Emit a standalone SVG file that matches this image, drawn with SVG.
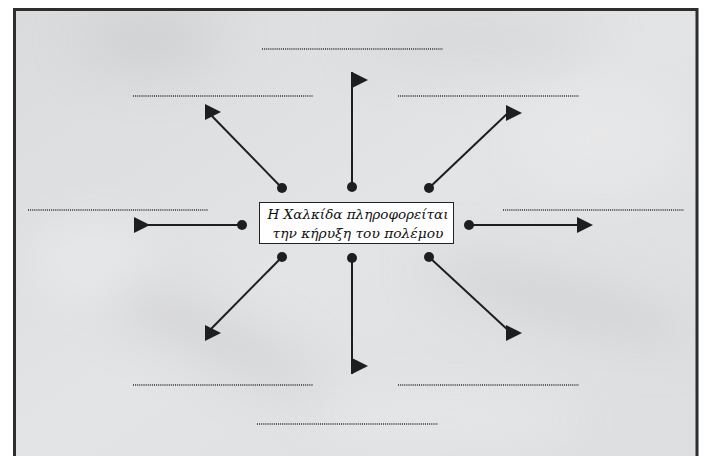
<svg xmlns="http://www.w3.org/2000/svg" xmlns:xlink="http://www.w3.org/1999/xlink" width="704" height="456" viewBox="0 0 704 456">
<style>
.dots{stroke:#2a2a2a;stroke-width:1.3;stroke-dasharray:1 1.1;fill:none}
.arr{stroke:#1e1e1e;stroke-width:2;fill:none}
.dot{fill:#1e1e1e}
.flag{fill:#1e1e1e}
.lbl{font-family:"DejaVu Serif","Liberation Serif",serif;font-style:italic;font-size:13.5px;fill:#111;text-anchor:middle}
</style>
<defs>
<linearGradient id="bg" x1="0" y1="0" x2="1" y2="1">
<stop offset="0" stop-color="#dadbdd"/>
<stop offset="0.5" stop-color="#e3e4e6"/>
<stop offset="1" stop-color="#dddee0"/>
</linearGradient>
<filter id="blur" x="-50%" y="-50%" width="200%" height="200%"><feGaussianBlur stdDeviation="25"/></filter>
<polygon id="fl" points="0,-8 16,0 0,8"/>
<clipPath id="frameclip"><rect x="15" y="10" width="682" height="446"/></clipPath>
</defs>
<rect width="704" height="456" fill="#fff"/>
<g clip-path="url(#frameclip)">
<rect x="15" y="10" width="682" height="446" fill="url(#bg)"/>
<g filter="url(#blur)" opacity="0.5">
<ellipse cx="150" cy="40" rx="70" ry="30" fill="#c4c5c7"/>
<ellipse cx="200" cy="330" rx="140" ry="22" fill="#c2c3c5" transform="rotate(25 200 330)"/>
<ellipse cx="560" cy="300" rx="140" ry="25" fill="#c6c7c9" transform="rotate(15 560 300)"/>
<ellipse cx="480" cy="40" rx="120" ry="20" fill="#cacbcd"/>
<ellipse cx="90" cy="260" rx="60" ry="40" fill="#eeeff0"/>
<ellipse cx="600" cy="140" rx="80" ry="50" fill="#eceded"/>
<ellipse cx="450" cy="420" rx="140" ry="30" fill="#eaebec"/>
</g>
</g>
<rect x="14.5" y="9.5" width="682.5" height="460" fill="none" stroke="#2e2e2e" stroke-width="3"/>

<g id="blanks">
<line id="blank-top" class="dots" x1="262" y1="49" x2="443" y2="49"/>
<line id="blank-top-left" class="dots" x1="133" y1="96" x2="313" y2="96"/>
<line id="blank-top-right" class="dots" x1="398" y1="96" x2="579" y2="96"/>
<line id="blank-left" class="dots" x1="28" y1="210" x2="208" y2="210"/>
<line id="blank-right" class="dots" x1="503" y1="210" x2="684" y2="210"/>
<line id="blank-bottom-left" class="dots" x1="133" y1="385" x2="313" y2="385"/>
<line id="blank-bottom-right" class="dots" x1="398" y1="385" x2="579" y2="385"/>
<line id="blank-bottom" class="dots" x1="257" y1="424" x2="438" y2="424"/>
</g>

<g id="connectors">
<line class="arr" x1="282" y1="188" x2="209" y2="113"/>
<line class="arr" x1="352" y1="188" x2="352" y2="72"/>
<line class="arr" x1="429" y1="188" x2="509" y2="112"/>
<line class="arr" x1="242" y1="225" x2="148" y2="225"/>
<line class="arr" x1="469" y1="225" x2="578" y2="225"/>
<line class="arr" x1="282" y1="257" x2="209" y2="331"/>
<line class="arr" x1="352" y1="257" x2="352" y2="374"/>
<line class="arr" x1="429" y1="257" x2="509" y2="331"/>
<g class="flag">
<use xlink:href="#fl" x="205" y="112"/>
<use xlink:href="#fl" x="352" y="80"/>
<use xlink:href="#fl" x="506" y="113"/>
<use xlink:href="#fl" x="134" y="225"/>
<use xlink:href="#fl" x="577" y="225"/>
<use xlink:href="#fl" x="205" y="333"/>
<use xlink:href="#fl" x="352" y="366"/>
<use xlink:href="#fl" x="506" y="333"/>
</g>
<g class="dot">
<circle cx="282" cy="188" r="5"/>
<circle cx="352" cy="187" r="5"/>
<circle cx="429" cy="188" r="5"/>
<circle cx="242" cy="225" r="5"/>
<circle cx="469" cy="225" r="5"/>
<circle cx="282" cy="257" r="5"/>
<circle cx="352" cy="258" r="5"/>
<circle cx="429" cy="257" r="5"/>
</g>
</g>

<g id="center">
<rect x="259.5" y="202.5" width="194" height="41" fill="#fff" stroke="#222" stroke-width="1"/>
<text class="lbl" x="358" y="219" textLength="181" lengthAdjust="spacingAndGlyphs">Η Χαλκίδα πληροφορείται</text>
<text class="lbl" x="358" y="238" textLength="171" lengthAdjust="spacingAndGlyphs">την κήρυξη του πολέμου</text>
</g>
</svg>
